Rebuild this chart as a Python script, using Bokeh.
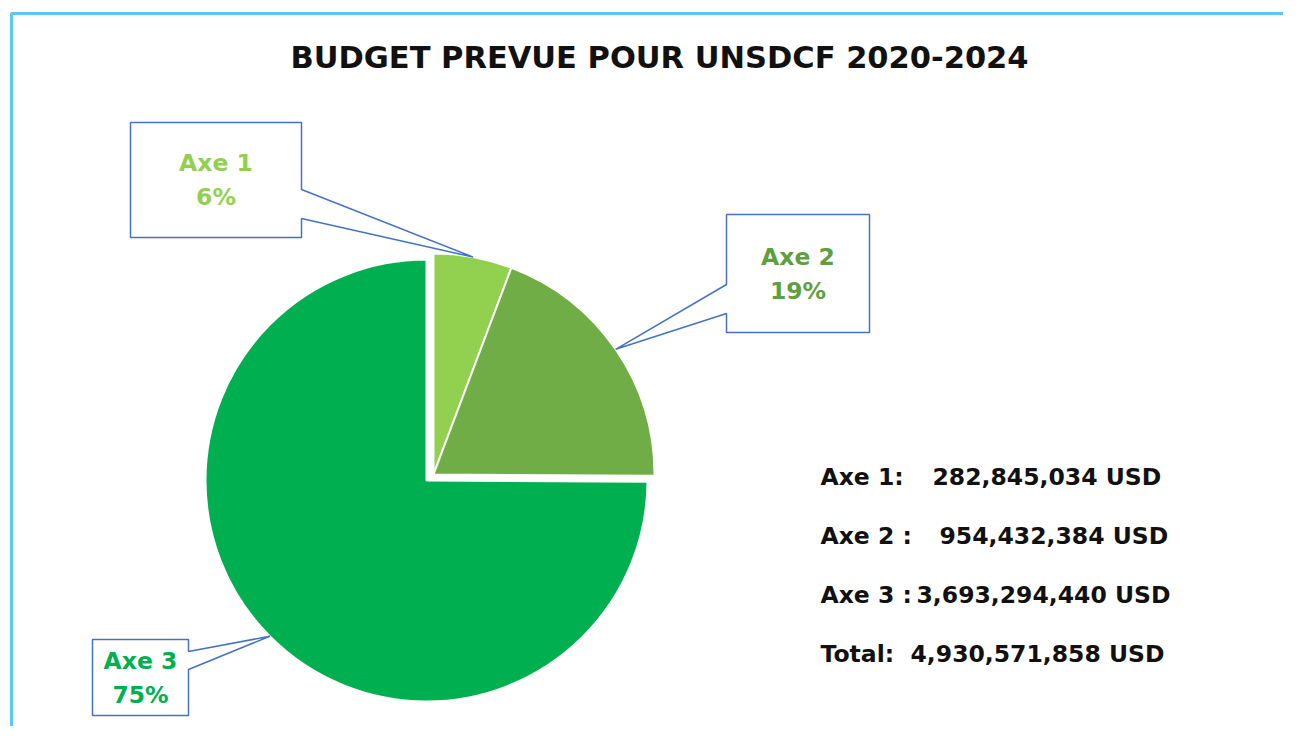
import math
from bokeh.plotting import figure
from bokeh.models import Range1d
from bokeh.core.properties import value
from bokeh.embed import file_html
from bokeh.resources import INLINE

# ---------------- data ----------------
title_text = "BUDGET PREVUE POUR UNSDCF 2020-2024"
categories = ["Axe 1", "Axe 2", "Axe 3"]
amounts = [282845034, 954432384, 3693294440]
summary_labels = ["Axe 1:", "Axe 2 :", "Axe 3 :", "Total:"]
currency = "USD"

# ---------------- style ----------------
slice_colors = ["#92D050", "#70AD47", "#00B050"]
label_colors = ["#92D050", "#5F9F3F", "#00B050"]
callout_line = "#4472C4"
frame_color = "#5BC8F0"
FONT = "DejaVu Sans"

W, H = 1283, 726


def Y(s):
    return H - s


p = figure(width=W, height=H, output_backend="svg", toolbar_location=None,
           x_range=Range1d(0, W), y_range=Range1d(0, H),
           min_border=0, background_fill_color="white", border_fill_color="white")
p.axis.visible = False
p.grid.visible = False
p.outline_line_color = None

# outer frame
p.line(x=[11, 11, 1300], y=[Y(760), Y(13), Y(13)], line_color=frame_color, line_width=3)

# title
p.text(x=[659], y=[Y(57)], text=[title_text], text_font=value(FONT),
       text_font_style="bold", text_font_size="30.5px", text_color="#111111",
       text_align="center", text_baseline="middle")

# ---------------- pie ----------------
total = sum(amounts)
fracs = [a / total for a in amounts]
radius = 221
centers = [(433, 474), (433, 474), (426, 480)]  # exploded layout (screen px)

cum = 0.0
mids = []
for i, f in enumerate(fracs):
    a0 = 90 - cum * 360
    a1 = 90 - (cum + f) * 360
    cum += f
    cx, cy = centers[i]
    p.wedge(x=[cx], y=[Y(cy)], radius=radius,
            start_angle=math.radians(a1), end_angle=math.radians(a0),
            fill_color=slice_colors[i], line_color="white", line_width=2)
    mids.append((a0 + a1) / 2)

tips = []
for i, m in enumerate(mids):
    cx, cy = centers[i]
    tips.append((cx + radius * math.cos(math.radians(m)),
                 cy - radius * math.sin(math.radians(m))))

# callout boxes (screen px): left, top, right, bottom, side, pointer y1, y2
boxes = [
    (130, 122, 301, 237, "right", 189, 218),
    (726, 214, 869, 332, "left", 284, 313),
    (92, 639, 188, 715, "right", 651, 669),
]
for i, (l, t, r, b, side, py1, py2) in enumerate(boxes):
    tx, ty = tips[i]
    if side == "right":
        pts = [(l, t), (r, t), (r, py1), (tx, ty), (r, py2), (r, b), (l, b)]
    else:
        pts = [(l, t), (r, t), (r, b), (l, b), (l, py2), (tx, ty), (l, py1)]
    p.patch(x=[q[0] for q in pts], y=[Y(q[1]) for q in pts],
            fill_color="white", line_color=callout_line, line_width=1.5)
    pct = round(fracs[i] * 100)
    cxl = (l + r) / 2
    cyl = (t + b) / 2
    p.text(x=[cxl, cxl], y=[Y(cyl - 17), Y(cyl + 17)],
           text=[categories[i], f"{pct}%"], text_font=value(FONT),
           text_font_style="bold", text_font_size="23.5px",
           text_color=label_colors[i], text_align="center", text_baseline="middle")

# ---------------- summary ----------------
summary_values = amounts + [total]
row_y = [476, 535, 594, 653]
num_x = [932, 939, 916, 910]
for i, lab in enumerate(summary_labels):
    p.text(x=[820], y=[Y(row_y[i])], text=[lab], text_font=value(FONT),
           text_font_style="bold", text_font_size="23.5px", text_color="#111111",
           text_align="left", text_baseline="middle")
    p.text(x=[num_x[i]], y=[Y(row_y[i])], text=[f"{summary_values[i]:,} {currency}"],
           text_font=value(FONT), text_font_style="bold", text_font_size="23.5px",
           text_color="#111111", text_align="left", text_baseline="middle")

open("out.html", "w").write(file_html(p, INLINE))
